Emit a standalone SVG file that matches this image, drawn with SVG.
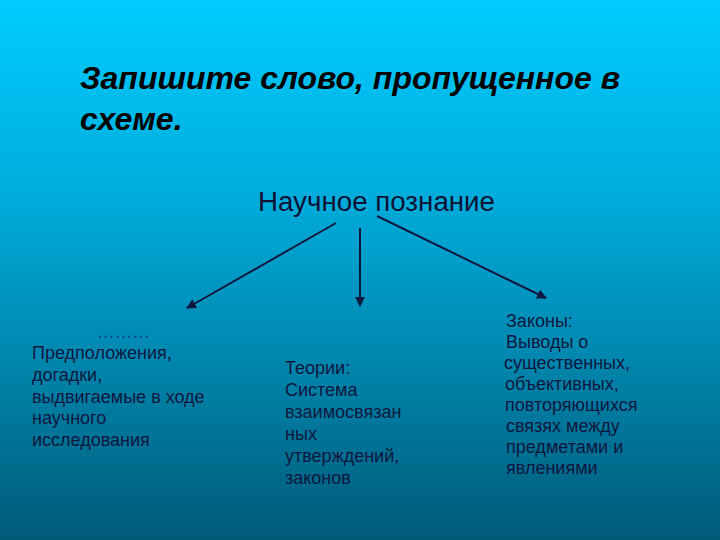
<svg xmlns="http://www.w3.org/2000/svg" width="720" height="540" viewBox="0 0 720 540">
<defs>
<linearGradient id="bg" x1="0" y1="0" x2="0" y2="1">
<stop offset="0" stop-color="#00ccff"/>
<stop offset="0.35" stop-color="#00aedd"/>
<stop offset="0.65" stop-color="#0088b0"/>
<stop offset="1" stop-color="#005a78"/>
</linearGradient>
<marker id="ah" viewBox="0 0 10 10" refX="9" refY="5" markerWidth="5" markerHeight="5" orient="auto" markerUnits="strokeWidth">
<path d="M0,0 L10,5 L0,10 z" fill="#0d1840"/>
</marker>
<style>
.title{font-family:"Liberation Sans",Arial,sans-serif;font-size:32px;font-weight:bold;font-style:italic;fill:#000}
.root{font-family:"Liberation Sans",Arial,sans-serif;font-size:27px;fill:#0d1235}
.body{font-family:"Liberation Sans",Arial,sans-serif;font-size:18px;fill:#0d1840}
.dots{font-family:"Liberation Sans",Arial,sans-serif;font-size:20px;fill:#1a3c98}
.conn{stroke:#0d1840;stroke-width:2;fill:none;marker-end:url(#ah)}
</style>
</defs>
<rect width="720" height="540" fill="url(#bg)"/>
<g id="title">
<text class="title" x="80" y="89" textLength="540" lengthAdjust="spacingAndGlyphs">Запишите слово, пропущенное в</text>
<text class="title" x="80" y="130">схеме.</text>
</g>
<g id="root">
<text class="root" x="258" y="211" textLength="237" lengthAdjust="spacingAndGlyphs">Научное познание</text>
</g>
<g id="connectors">
<line class="conn" x1="336" y1="223" x2="187" y2="308"/>
<line class="conn" x1="360" y1="228" x2="360" y2="306"/>
<line class="conn" x1="377" y1="216" x2="546" y2="298"/>
</g>
<g id="hypotheses">
<text class="dots" x="97" y="338" textLength="53" lengthAdjust="spacingAndGlyphs">………</text>
<text class="body" x="32" y="359">Предположения,</text>
<text class="body" x="32" y="381">догадки,</text>
<text class="body" x="32" y="403">выдвигаемые в ходе</text>
<text class="body" x="32" y="424">научного</text>
<text class="body" x="32" y="446">исследования</text>
</g>
<g id="theories">
<text class="body" x="285" y="374">Теории:</text>
<text class="body" x="285" y="396">Система</text>
<text class="body" x="285" y="418">взаимосвязан</text>
<text class="body" x="285" y="440">ных</text>
<text class="body" x="285" y="462">утверждений,</text>
<text class="body" x="285" y="484">законов</text>
</g>
<g id="laws">
<text class="body" x="506" y="327">Законы:</text>
<text class="body" x="506" y="348">Выводы о</text>
<text class="body" x="504" y="369">существенных,</text>
<text class="body" x="505" y="390">объективных,</text>
<text class="body" x="505" y="411">повторяющихся</text>
<text class="body" x="506" y="432">связях между</text>
<text class="body" x="506" y="453">предметами и</text>
<text class="body" x="506" y="474">явлениями</text>
</g>
</svg>
